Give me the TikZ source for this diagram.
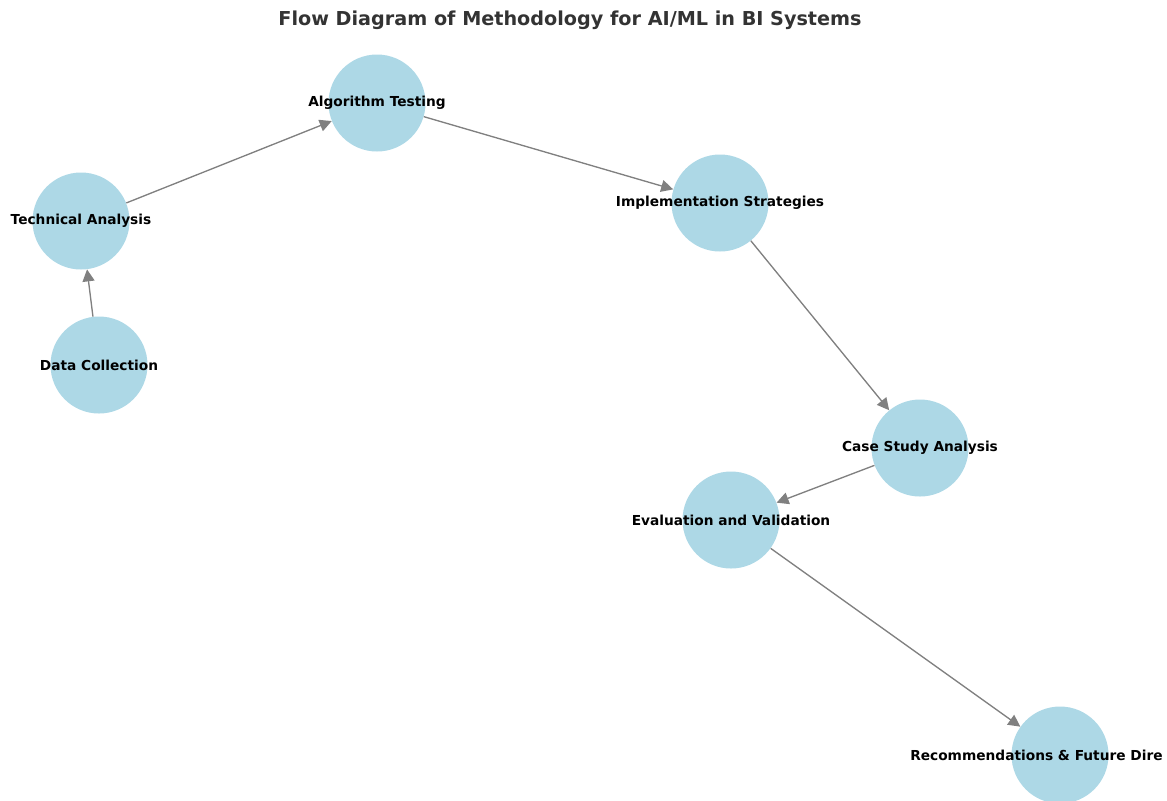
\documentclass[tikz,border=0pt]{standalone}
\usepackage{fontspec}
\setmainfont{DejaVu Sans}
\usepackage{tikz}
\usetikzlibrary{arrows.meta,shapes}
\definecolor{nodeblue}{HTML}{ADD8E6}
\definecolor{edgegray}{HTML}{808080}
\definecolor{titlegray}{HTML}{333333}

\begin{document}
\begin{tikzpicture}[x=0.75bp, y=-0.75bp, >={Triangle[length=9bp,width=9bp]},
  stage/.style={circle, fill=nodeblue, minimum size=72.75bp, inner sep=0pt},
  stagetext/.style={font=\bfseries\fontsize{10.3bp}{12bp}\selectfont, inner sep=0pt},
  flow/.style={draw=edgegray, fill=edgegray, line width=1bp, ->}]
  \useasboundingbox (0,0) rectangle (1167,800);
  \clip (0,0) rectangle (1167,800);

  % Title
  \node (title) at (570,20) [font=\bfseries\fontsize{14.4bp}{17bp}\selectfont, text=titlegray] {Flow Diagram of Methodology for AI/ML in BI Systems};

  % States
  \node (data) at (99,365) [stage] {};
  \node (tech) at (81,221) [stage] {};
  \node (algo) at (377,103) [stage] {};
  \node (impl) at (720,203) [stage] {};
  \node (case) at (920,448) [stage] {};
  \node (eval) at (731,520) [stage] {};
  \node (rec) at (1060,755) [stage] {};

  % Edges
  \draw[flow] (data) -- (tech);
  \draw[flow] (tech) -- (algo);
  \draw[flow] (algo) -- (impl);
  \draw[flow] (impl) -- (case);
  \draw[flow] (case) -- (eval);
  \draw[flow] (eval) -- (rec);

  % Labels
  \node (dataText) at (data) [stagetext] {Data Collection};
  \node (techText) at (tech) [stagetext] {Technical Analysis};
  \node (algoText) at (algo) [stagetext] {Algorithm Testing};
  \node (implText) at (impl) [stagetext] {Implementation Strategies};
  \node (caseText) at (case) [stagetext] {Case Study Analysis};
  \node (evalText) at (eval) [stagetext] {Evaluation and Validation};
  \node (recText) at (910,755) [stagetext, anchor=west] {Recommendations \& Future Dire};
\end{tikzpicture}
\end{document}
